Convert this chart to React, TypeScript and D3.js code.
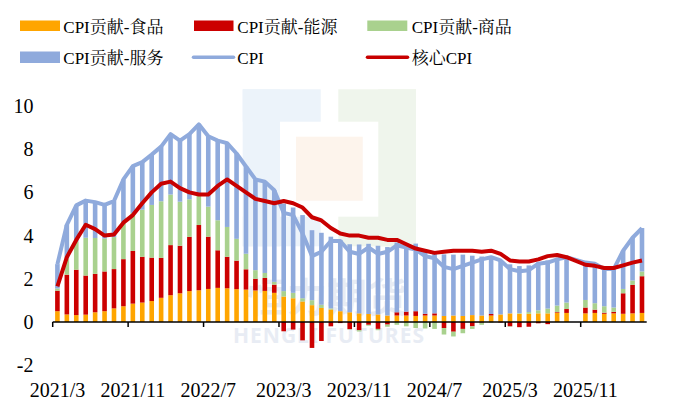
import React from 'react';
import * as d3 from 'd3';

const categories = [
  '2021/3','2021/4','2021/5','2021/6','2021/7','2021/8','2021/9','2021/10','2021/11','2021/12',
  '2022/1','2022/2','2022/3','2022/4','2022/5','2022/6','2022/7','2022/8','2022/9','2022/10','2022/11','2022/12',
  '2023/1','2023/2','2023/3','2023/4','2023/5','2023/6','2023/7','2023/8','2023/9','2023/10','2023/11','2023/12',
  '2024/1','2024/2','2024/3','2024/4','2024/5','2024/6','2024/7','2024/8','2024/9','2024/10','2024/11','2024/12',
  '2025/1','2025/2','2025/3','2025/4','2025/5','2025/6','2025/7','2025/8','2025/9','2025/10','2025/11','2025/12',
  '2026/1','2026/2','2026/3','2026/4','2026/5',
];

const tickLabels = ['2021/3', '2021/11', '2022/7', '2023/3', '2023/11', '2024/7', '2025/3', '2025/11'];
const yTicks = [-2, 0, 2, 4, 6, 8, 10];

const food = [
  0.5,0.35,0.32,0.34,0.45,0.5,0.63,0.73,0.85,0.9,
  0.97,1.12,1.24,1.33,1.43,1.47,1.53,1.58,1.56,1.52,1.5,1.46,
  1.44,1.35,1.18,1.1,0.95,0.78,0.65,0.58,0.5,0.45,0.4,0.37,
  0.35,0.3,0.3,0.3,0.28,0.3,0.3,0.28,0.3,0.28,0.32,0.3,
  0.3,0.35,0.4,0.38,0.38,0.4,0.4,0.43,0.42,null,0.4,0.42,
  0.38,0.4,0.38,0.4,0.42,
];
const energy = [
  0.95,1.84,2.1,1.81,1.78,1.84,1.82,2.18,2.44,2.12,
  2.01,1.85,2.32,2.2,2.51,3.02,2.42,1.74,1.46,1.32,0.94,0.54,
  0.6,0.38,-0.43,-0.35,-0.85,-1.2,-0.88,-0.2,-0.05,-0.33,-0.38,-0.13,
  -0.32,-0.12,0.15,0.18,0.22,0.08,0.1,-0.28,-0.45,-0.32,-0.2,-0.03,
  0.07,-0.02,-0.2,-0.24,-0.22,-0.06,-0.1,0.03,0.18,null,0.27,0.15,
  0.05,0.07,0.95,1.32,1.7,
];
const goods = [
  0.1,0.76,1.31,1.75,1.66,1.52,1.48,1.65,1.76,2.18,
  2.44,2.62,2.34,2.04,1.74,1.39,1.39,1.39,1.38,1.01,0.72,0.4,
  0.23,0.13,0.25,0.25,0.15,0.23,0.15,0.05,0.0,-0.02,-0.06,-0.04,
  -0.06,-0.1,-0.13,-0.2,-0.28,-0.3,-0.32,-0.3,-0.22,-0.2,-0.12,-0.1,
  -0.03,0.0,-0.02,0.03,0.08,0.14,0.22,0.3,0.3,null,0.35,0.3,
  0.3,0.2,0.2,0.2,0.22,
];
const services = [
  1.13,1.55,1.67,1.72,1.66,1.56,1.67,2.04,2.17,2.2,
  2.33,2.53,2.8,2.83,3.02,3.27,3.26,3.69,3.88,3.95,4.04,4.2,
  4.23,4.24,4.05,3.95,3.85,3.24,3.33,3.32,3.3,3.15,3.19,3.25,
  3.18,3.17,3.23,3.17,3.13,2.97,2.87,2.85,2.82,2.84,2.75,2.73,
  2.66,2.52,2.27,2.18,2.16,2.22,2.23,2.14,2.1,null,1.73,1.83,
  1.72,1.78,1.77,1.98,2.01,
];
const cpi = [
  2.68,4.5,5.4,5.62,5.55,5.42,5.6,6.6,7.22,7.4,
  7.75,8.12,8.7,8.4,8.7,9.15,8.6,8.4,8.28,7.8,7.2,6.6,
  6.5,6.1,5.05,4.95,4.1,3.05,3.25,3.75,3.75,3.25,3.15,3.45,
  3.15,3.25,3.55,3.45,3.35,3.05,2.95,2.55,2.45,2.6,2.75,2.9,
  3.0,2.85,2.45,2.35,2.4,2.7,2.75,2.9,3.0,null,2.75,2.7,
  2.45,2.45,3.3,3.9,4.35,
];
const coreCpi = [
  1.65,3.0,3.8,4.5,4.3,4.0,4.05,4.6,4.95,5.5,
  6.0,6.4,6.5,6.2,6.0,5.9,5.9,6.3,6.6,6.3,6.0,5.7,
  5.6,5.5,5.6,5.5,5.3,4.85,4.7,4.35,4.1,4.0,4.0,3.9,
  3.9,3.8,3.8,3.6,3.4,3.3,3.2,3.25,3.3,3.3,3.3,3.25,
  3.3,3.15,2.85,2.8,2.8,2.9,3.05,3.1,3.0,null,2.65,2.6,
  2.5,2.5,2.62,2.75,2.85,
];

const seriesKeys = ['food', 'energy', 'goods', 'services'];
const seriesNames = ['CPI贡献-食品', 'CPI贡献-能源', 'CPI贡献-商品', 'CPI贡献-服务'];
const colors: Record<string, string> = {
  food: '#FFA500',
  energy: '#CC0000',
  goods: '#A9D18E',
  services: '#8FAADC',
};
const cpiColor = '#8FAADC';
const coreColor = '#C80000';

const W = 675;
const H = 401;
const FONT = "'Times New Roman', 'Liberation Serif', 'Noto Serif CJK SC', 'Noto Sans CJK SC', serif";

export default function App() {
  const x = d3.scaleBand<string>().domain(categories).range([52.7, 646.7]).paddingInner(0).paddingOuter(0);
  const y = d3.scaleLinear().domain([-2, 10]).range([365.2, 106]);
  const bw = 4.6;

  const table = categories.map((c, i) => ({
    cat: c,
    valid: food[i] !== null,
    food: food[i] ?? 0,
    energy: energy[i] ?? 0,
    goods: goods[i] ?? 0,
    services: services[i] ?? 0,
  }));
  const stack = d3.stack<any>().keys(seriesKeys).offset(d3.stackOffsetDiverging);
  const layers = stack(table);

  const cx = (c: string) => (x(c) as number) + x.bandwidth() / 2;

  const cpiPts = categories.map((c, i) => [cx(c), cpi[i]] as [number, number | null]).filter((p) => p[1] !== null);
  const corePts = categories.map((c, i) => [cx(c), coreCpi[i]] as [number, number | null]).filter((p) => p[1] !== null);
  const line = d3
    .line<[number, number | null]>()
    .x((d) => d[0])
    .y((d) => y(d[1] as number))
    .curve(d3.curveLinear);

  const tickIdx = tickLabels.map((t) => categories.indexOf(t));

  return (
    <svg width={W} height={H} style={{ position: 'absolute', left: 0, top: 0, background: '#fff' }} fontFamily={FONT}>
      <rect x={0} y={0} width={W} height={H} fill="#fff" />
      {/* watermark */}
      <g opacity={0.9}>
        <rect x={242.7} y={89.3} width={78} height={32.4} fill="#EAF2FA" />
        <rect x={242.7} y={89.3} width={37.3} height={157} fill="#EAF2FA" />
        <rect x={242.7} y={216.7} width={78} height={29.6} fill="#EAF2FA" />
        <rect x={338.3} y={89.3} width={77.7} height={32.4} fill="#EEF5EA" />
        <rect x={378.3} y={89.3} width={37.7} height={157} fill="#EEF5EA" />
        <rect x={338.3} y={216.7} width={77.7} height={29.6} fill="#EEF5EA" />
        <rect x={296} y={136.7} width={66.7} height={64} fill="#FDF3EA" />
        <text x={327} y={312} textAnchor="middle" fontSize={40} fill="#E6EBF3" fontFamily="'Noto Sans CJK SC', sans-serif" fontWeight={700}>恒力期货</text>
        <text x={329} y={343} textAnchor="middle" fontSize={21} fill="#E6EBF3" fontFamily="'Noto Sans', 'DejaVu Sans', sans-serif" fontWeight={700} letterSpacing={1}>HENGLI FUTURES</text>
      </g>

      {/* bars */}
      {layers.map((layer) => (
        <g key={layer.key} fill={colors[layer.key]}>
          {layer.map((d, i) => {
            if (!table[i].valid) return null;
            const y0 = y(d[0]);
            const y1 = y(d[1]);
            const top = Math.min(y0, y1);
            const h = Math.abs(y0 - y1);
            if (h < 0.01) return null;
            return <rect key={i} x={cx(categories[i]) - bw / 2} y={top} width={bw} height={h} />;
          })}
        </g>
      ))}

      {/* x axis */}
      <line x1={52.7} x2={646.7} y1={y(0)} y2={y(0)} stroke="#000" strokeWidth={1.5} />
      {tickIdx.map((ti) => (
        <line key={ti} x1={x(categories[ti]) as number} x2={x(categories[ti]) as number} y1={y(0)} y2={y(0) + 5} stroke="#000" strokeWidth={1.5} />
      ))}
      {tickIdx.map((ti) => (
        <text key={'l' + ti} x={cx(categories[ti])} y={396.5} textAnchor="middle" fontSize={20} fill="#000">
          {categories[ti]}
        </text>
      ))}

      {/* y labels */}
      {yTicks.map((t) => (
        <text key={t} x={33.5} y={y(t)} dy="0.35em" textAnchor="end" fontSize={20} fill="#000">
          {t}
        </text>
      ))}

      {/* lines */}
      <path d={line(cpiPts) || ''} fill="none" stroke={cpiColor} strokeWidth={4} strokeLinejoin="round" />
      <path d={line(corePts) || ''} fill="none" stroke={coreColor} strokeWidth={4} strokeLinejoin="round" />

      {/* legend */}
      <g fontSize={17} fill="#000">
        <rect x={20} y={20.5} width={40} height={10.5} fill={colors.food} />
        <text x={63.3} y={33}>{seriesNames[0]}</text>
        <rect x={194} y={20.5} width={39.5} height={10.5} fill={colors.energy} />
        <text x={237.3} y={33}>{seriesNames[1]}</text>
        <rect x={367.3} y={20.5} width={40} height={10.5} fill={colors.goods} />
        <text x={411.7} y={33}>{seriesNames[2]}</text>

        <rect x={20} y={51.5} width={40} height={11.5} fill={colors.services} />
        <text x={63.3} y={64}>{seriesNames[3]}</text>
        <line x1={193.5} x2={233.5} y1={57.3} y2={57.3} stroke={cpiColor} strokeWidth={3.5} strokeLinecap="round" />
        <text x={237.3} y={64}>CPI</text>
        <line x1={367.5} x2={407.5} y1={57.3} y2={57.3} stroke={coreColor} strokeWidth={3.5} strokeLinecap="round" />
        <text x={411.7} y={64}>核心CPI</text>
      </g>
    </svg>
  );
}
